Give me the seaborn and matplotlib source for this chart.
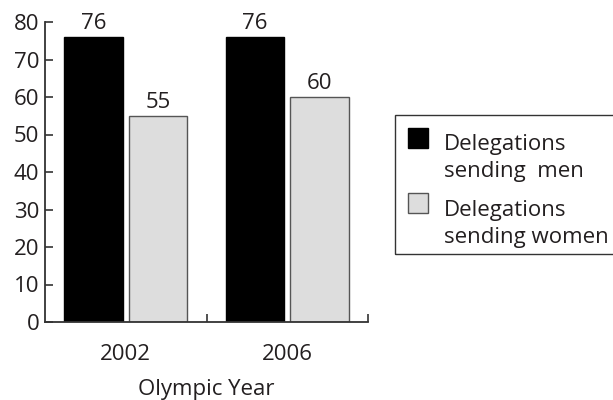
import matplotlib
matplotlib.use("Agg")
import matplotlib.pyplot as plt
from matplotlib.ticker import FixedLocator
from matplotlib.patches import Rectangle
from matplotlib.legend_handler import HandlerPatch
import seaborn as sns
import pandas as pd

years = ["2002", "2006"]
series = ["Delegations\nsending  men", "Delegations\nsending women"]
men = [76, 76]
women = [55, 60]
colors = ["#000000", "#dddddd"]
edge_colors = ["#000000", "#555555"]

df = pd.DataFrame({
    "year": years * 2,
    "group": [series[0]] * len(years) + [series[1]] * len(years),
    "count": men + women,
})

sns.set_theme(style="white")
plt.rcParams["font.family"] = ["Open Sans", "DejaVu Sans"]
FS = 16
TXT = "#231f20"
AX = "#333333"
W, H = 613, 400

fig = plt.figure(figsize=(W / 100, H / 100), dpi=100)
ax = fig.add_axes([45 / W, 1 - 322 / H, (368 - 45) / W, 300 / H])

sns.barplot(data=df, x="year", y="count", hue="group", order=years,
            hue_order=series, palette=colors, width=0.8, gap=0.09,
            ax=ax, legend=True, saturation=1)

for container, ec in zip(ax.containers, edge_colors):
    for bar in container:
        bar.set_edgecolor(ec)
        bar.set_linewidth(1.0)
    ax.bar_label(container, fmt="%d", padding=2, fontsize=FS, color=TXT)

ax.set_xlim(-0.5, 1.5)
ax.set_ylim(0, 80)
ax.set_yticks(range(0, 81, 10))
ax.tick_params(axis="y", which="major", direction="in", length=6, width=1.2,
               color=AX, labelsize=FS, labelcolor=TXT, pad=4, left=True)
ax.tick_params(axis="x", which="major", length=0, labelsize=FS,
               labelcolor=TXT, pad=16)
ax.xaxis.set_minor_locator(FixedLocator([0.5, 1.5]))
ax.tick_params(axis="x", which="minor", direction="in", length=6, width=1.2,
               color=AX, bottom=True)

for side in ["top", "right"]:
    ax.spines[side].set_visible(False)
for side in ["left", "bottom"]:
    ax.spines[side].set_color(AX)
    ax.spines[side].set_linewidth(1.3)

ax.set_xlabel("Olympic Year", fontsize=FS, color=TXT, labelpad=10)
ax.set_ylabel("")


# legend swatch sits beside the first line of its two-line label
def top_square(legend, orig_handle, xdescent, ydescent, width, height, fontsize):
    side = 0.9 * fontsize
    return Rectangle((-xdescent, -ydescent + 0.9 * fontsize), side, side)


handles, labels = ax.get_legend_handles_labels()
ax.get_legend().remove()
for h, ec in zip(handles, edge_colors):
    h.set_linewidth(1.0)
    h.set_edgecolor(ec)
leg = fig.legend(handles, labels, loc="upper left",
                 bbox_to_anchor=(408 / W, 1 - 134 / H),
                 fontsize=FS, frameon=False,
                 handlelength=0.9, handleheight=0.9, handletextpad=0.7,
                 labelspacing=0.8, borderpad=0, borderaxespad=0,
                 labelcolor=TXT,
                 handler_map={Rectangle: HandlerPatch(patch_func=top_square)})
for t in leg.get_texts():
    t.set_linespacing(1.38)

# legend frame, open past the right edge of the figure
fig.add_artist(Rectangle((395 / W, 1 - 254 / H), (W + 10 - 395) / W, (254 - 115) / H,
                         transform=fig.transFigure, fill=False,
                         edgecolor=AX, linewidth=1.0, clip_on=False))

fig.savefig("out.png", dpi=100)
